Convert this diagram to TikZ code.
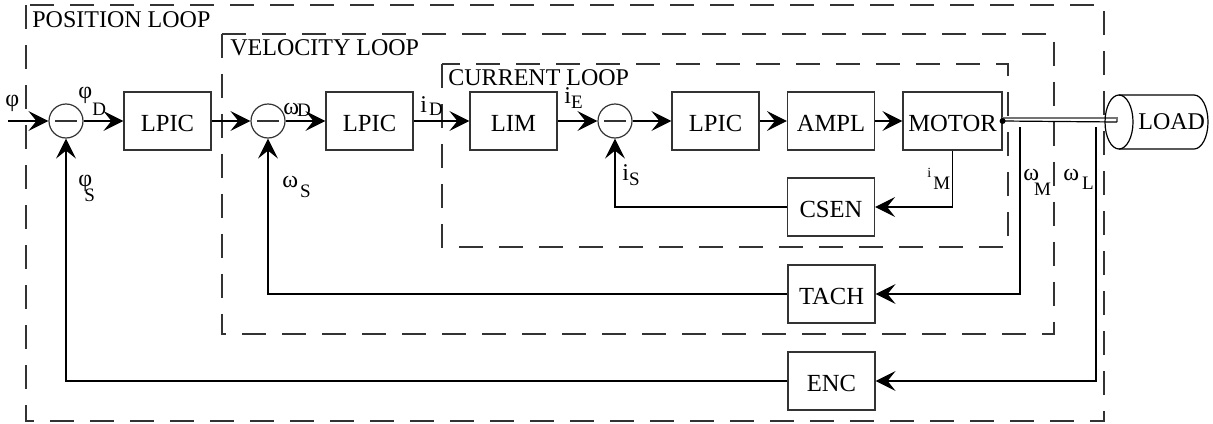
\documentclass[tikz,border=0pt]{standalone}
\usepackage{fontspec}
\setmainfont{Liberation Serif}
\usetikzlibrary{arrows.meta}
% signal name with a lowered subscript: #1 main symbol, #2 drop, #3 kern, #4 subscript
\newcommand{\sigsub}[4]{#1\kern#3\raisebox{#2}{\fontsize{9.5}{9.5}\selectfont #4}}
\begin{document}
\begin{tikzpicture}[x=0.5pt,y=-0.5pt,
  blk/.style={draw=black!80, line width=0.6pt, minimum width=43.5pt, minimum height=29pt,
    inner sep=0pt, text height=10.5pt, text depth=0pt, font=\fontsize{12.3}{12.3}\selectfont},
  summer/.style={circle, draw=black!80, line width=0.6pt, minimum size=17pt, inner sep=0pt,
    path picture={\draw[line width=0.6pt, black!80]
      ([xshift=-5.5pt]path picture bounding box.center) --
      ([xshift=5.5pt]path picture bounding box.center);}},
  sig/.style={line width=0.6pt, -{Stealth[length=10pt,width=10pt,inset=4pt]}},
  loopbox/.style={draw=black!80, line width=0.6pt, dash pattern=on 12pt off 8pt},
  lbl/.style={inner sep=0pt, anchor=base west, font=\fontsize{12}{12}\selectfont},
]
\useasboundingbox (0,0) rectangle (1213,423);

% nested control loops
\draw[loopbox] (26,5) rectangle (1104,421);
\draw[loopbox] (222,34) rectangle (1054,334);
\draw[loopbox] (442,64) rectangle (1008,247);
\node[lbl] (tpos) at (32,27) {POSITION LOOP};
\node[lbl] (tvel) at (230,55) {VELOCITY LOOP};
\node[lbl] (tcur) at (448,85) {CURRENT LOOP};

% forward path
\node[summer] (s1) at (66,121) {};
\node[blk] (lpic1) at (167.5,121) {LPIC};
\node[summer] (s2) at (268,121) {};
\node[blk] (lpic2) at (369.5,121) {LPIC};
\node[blk] (lim) at (513.5,121) {LIM};
\node[summer] (s3) at (615,121) {};
\node[blk] (lpic3) at (715.5,121) {LPIC};
\node[blk] (ampl) at (831,121) {AMPL};
\node[blk, minimum width=49.5pt] (motor) at (952.5,121) {MOTOR};

% feedback sensors
\node[blk] (csen) at (831,207) {CSEN};
\node[blk] (tach) at (831.5,294) {TACH};
\node[blk] (enc) at (831.5,381) {ENC};

\coordinate (in) at (8,121);
\draw[sig] (in) -- (s1.west);
\draw[sig] (s1.east) -- (lpic1.west);
\draw[sig] (lpic1.east) -- (s2.west);
\draw[sig] (s2.east) -- (lpic2.west);
\draw[sig] (lpic2.east) -- (lim.west);
\draw[sig] (lim.east) -- (s3.west);
\draw[sig] (s3.east) -- (lpic3.west);
\draw[sig] (lpic3.east) -- (ampl.west);
\draw[sig] (ampl.east) -- (motor.west);

% current feedback
\draw[sig] (motor.south) |- (csen.east);
\draw[sig] (csen.west) -| (s3.south);

% motor speed feedback
\coordinate (wm) at (1020,127);
\draw[sig] (wm) |- (tach.east);
\draw[sig] (tach.west) -| (s2.south);

% load position feedback
\coordinate (wl) at (1096,127);
\draw[sig] (wl) |- (enc.east);
\draw[sig] (enc.west) -| (s1.south);

% shaft and load
\coordinate (shaft) at (1117,122);
\draw[black!55, line width=0.6pt] (1002,118) -- (1117,118) -- (shaft);
\draw[line width=0.6pt] (motor.east) -- (shaft);
\fill (motor.east) circle (1.5pt);
\draw[line width=0.6pt] (1119,122) ellipse [x radius=7pt, y radius=13.5pt];
\draw[line width=0.6pt] (1119,95) -- (1194,95)
  arc[start angle=90, end angle=-90, x radius=7pt, y radius=13.5pt] -- (1119,149);
\node[lbl] (load) at (1138,129) {LOAD};

% signal labels
\node[lbl] (lphi) at (5,106) {φ};
\node[lbl] (lphid) at (78,98) {\sigsub{φ}{-8.5pt}{0pt}{D}};
\node[lbl] (lphis) at (78,186) {\sigsub{φ}{-7.5pt}{-4pt}{S}};
\node[lbl] (lwd) at (283,114) {\sigsub{ω}{-1pt}{-1pt}{D}};
\node[lbl] (lws) at (282,187) {\sigsub{ω}{-5pt}{1pt}{S}};
\node[lbl] (lid) at (420,112) {\sigsub{i}{-1.5pt}{1pt}{D}};
\node[lbl] (lie) at (564,103) {\sigsub{i}{-2.5pt}{0pt}{E}};
\node[lbl] (lis) at (622,180) {\sigsub{i}{-2.5pt}{0pt}{S}};
\node[lbl] (lim2) at (927,177) {\sigsub{\fontsize{7}{7}\selectfont i}{-6pt}{1pt}{M}};
\node[lbl] (lwm) at (1023,180) {\sigsub{ω}{-7.5pt}{-2.5pt}{M}};
\node[lbl] (lwl) at (1063,180) {\sigsub{ω}{-4.5pt}{1.5pt}{L}};
\end{tikzpicture}
\end{document}
